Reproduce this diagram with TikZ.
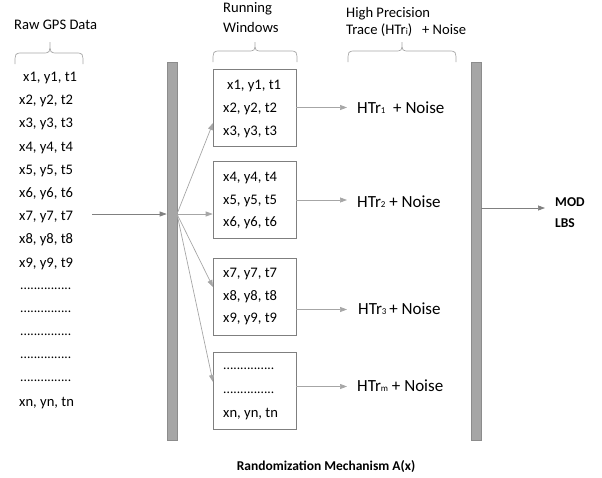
\documentclass[tikz,border=0pt]{standalone}
\usepackage{fontspec}
\setmainfont{Carlito}
\usetikzlibrary{arrows.meta}
\definecolor{barfill}{HTML}{A6A6A6}
\definecolor{barline}{HTML}{8C8C8C}
\definecolor{lightarr}{HTML}{A6A6A6}
\definecolor{darkarr}{HTML}{808080}
\definecolor{bracecol}{HTML}{A6A6A6}
\definecolor{boxline}{HTML}{7F7F7F}
\newcommand\smallsub[1]{{\fontsize{9}{9}\selectfont #1}}
\begin{document}
\begin{tikzpicture}[x=1pt,y=-1pt,
  txt/.style={anchor=base west, inner sep=0pt, font=\fontsize{14.6}{16}\selectfont},
  dots/.style={anchor=base west, inner sep=0pt, font=\fontsize{13.5}{16}\selectfont},
  htr/.style={anchor=west, inner sep=0pt, font=\fontsize{17}{18}\selectfont},
  boldtxt/.style={anchor=base west, inner sep=0pt, font=\fontsize{13.5}{15}\selectfont\bfseries},
  bar/.style={draw=barline, fill=barfill, line width=0.6pt, minimum width=10pt, minimum height=378pt, inner sep=0pt},
  winbox/.style={draw=boxline, line width=0.6pt, minimum width=83pt, minimum height=77pt, inner sep=0pt},
  arrlight/.style={draw=lightarr, line width=0.7pt, -{Triangle[length=7pt,width=5pt]}},
  arrdark/.style={draw=darkarr, line width=0.7pt, -{Triangle[length=7pt,width=5pt]}},
  bracestyle/.style={draw=bracecol, line width=0.7pt}
]
\useasboundingbox (0,0) rectangle (602,477);

% braces
\draw[bracestyle] (15,64) .. controls (15,53) .. (23,53) -- (42,53) .. controls (50,53) .. (50,42) .. controls (50,53) .. (58,53) -- (75,53) .. controls (83,53) .. (83,64);
\draw[bracestyle] (213,62) .. controls (213,51) .. (221,51) -- (247,51) .. controls (255,51) .. (255,42) .. controls (255,51) .. (263,51) -- (289,51) .. controls (297,51) .. (297,62);
\draw[bracestyle] (348,62) .. controls (348,51) .. (356,51) -- (394,51) .. controls (402,51) .. (402,42) .. controls (402,51) .. (410,51) -- (448,51) .. controls (456,51) .. (456,62);

% top labels
\node[txt] (lraw) at (14,29.5) {Raw GPS Data};
\node[txt] (lrun) at (223,12.5) {Running};
\node[txt] (lwin) at (223,32.5) {Windows};
\node[txt] (lhigh) at (346,17.3) {High Precision};
\node[txt] (ltrace) at (346,34.7) {Trace (HTr\smallsub{i})\ \ \ + Noise};

% raw list
\node[txt] (r1) at (23,81.5) {x1, y1, t1};
\node[txt] (r2) at (19,104.7) {x2, y2, t2};
\node[txt] (r3) at (19,127.9) {x3, y3, t3};
\node[txt] (r4) at (19,151.1) {x4, y4, t4};
\node[txt] (r5) at (19,174.3) {x5, y5, t5};
\node[txt] (r6) at (19,197.5) {x6, y6, t6};
\node[txt] (r7) at (19,220.7) {x7, y7, t7};
\node[txt] (r8) at (19,243.9) {x8, y8, t8};
\node[txt] (r9) at (19,267.1) {x9, y9, t9};
\node[dots] (rd1) at (20,289) {...............};
\node[dots] (rd2) at (20,312.2) {...............};
\node[dots] (rd3) at (20,335.4) {...............};
\node[dots] (rd4) at (20,358.6) {...............};
\node[dots] (rd5) at (20,381.8) {...............};
\node[txt] (rn) at (19,406.3) {xn, yn, tn};

% bars
\node[bar] (barL) at (172,251) {};
\node[bar] (barR) at (476,251) {};

% window boxes
\node[winbox] (w1) at (254.5,107.5) {};
\node[winbox] (w2) at (254.5,200) {};
\node[winbox] (w3) at (254.5,296.5) {};
\node[winbox] (w4) at (254.5,390.5) {};

\node[txt] (b11) at (227,89.5) {x1, y1, t1};
\node[txt] (b12) at (223,112.5) {x2, y2, t2};
\node[txt] (b13) at (223,135.5) {x3, y3, t3};
\node[txt] (b21) at (223,181.5) {x4, y4, t4};
\node[txt] (b22) at (223,204.5) {x5, y5, t5};
\node[txt] (b23) at (223,226.5) {x6, y6, t6};
\node[txt] (b31) at (223,277.5) {x7, y7, t7};
\node[txt] (b32) at (223,300.5) {x8, y8, t8};
\node[txt] (b33) at (223,322.5) {x9, y9, t9};
\node[dots] (b41) at (223,369.5) {...............};
\node[dots] (b42) at (223,393.5) {...............};
\node[txt] (b43) at (223,417.5) {xn, yn, tn};

% HTr labels
\node[htr] (h1) at (357,108) {HTr\smallsub{1}\ \ + Noise};
\node[htr] (h2) at (357,202) {HTr\smallsub{2} + Noise};
\node[htr] (h3) at (358,309) {HTr\smallsub{3}\,+ Noise};
\node[htr] (h4) at (357,386) {HTr\smallsub{m} + Noise};

% output labels
\node[boldtxt] (mod) at (555,206) {MOD};
\node[boldtxt] (lbs) at (555,227) {LBS};
\node[boldtxt, anchor=base] (mech) at (326,470) {Randomization Mechanism A(x)};

% coordinates
\coordinate (in7) at (92,214);
\coordinate (fan) at (177,214);
\coordinate (t1) at (213,123);
\coordinate (t3) at (213,287);
\coordinate (t4) at (213,382);
\coordinate (outs) at (481,208);
\coordinate (oute) at (545,208);

% connectors
\draw[arrdark] (in7) -- (fan -| barL.west);
\draw[arrlight] (fan) -- (t1);
\draw[arrlight] (fan) -- (fan -| w2.west);
\draw[arrlight] (fan) -- (t3);
\draw[arrlight] (fan) -- (t4);

\draw[arrlight] (w1.east) -- ([xshift=-10pt]w1.east -| h1.west);
\draw[arrlight] (w2.east) -- ([xshift=-10pt]w2.east -| h2.west);
\draw[arrlight] ([yshift=-13pt]w3.east) -- ([xshift=-11pt,yshift=-13pt]w3.east -| h3.west);
\draw[arrlight] ([yshift=4pt]w4.east) -- ([xshift=-10pt,yshift=4pt]w4.east -| h4.west);

\draw[arrdark] (outs) -- (oute);
\end{tikzpicture}
\end{document}
